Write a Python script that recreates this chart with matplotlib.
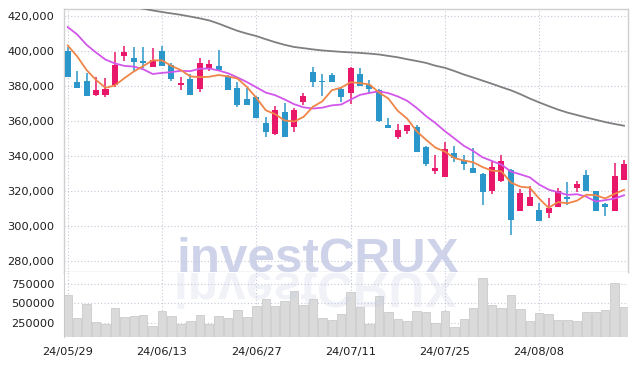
import numpy as np
import matplotlib
matplotlib.use("Agg")
import matplotlib.pyplot as plt
from matplotlib.ticker import FuncFormatter, FixedLocator
from matplotlib.textpath import TextPath
from matplotlib.patches import PathPatch
from matplotlib.font_manager import FontProperties
from matplotlib.transforms import Affine2D

dates = ['24/05/29', '24/05/30', '24/05/31', '24/06/03', '24/06/04', '24/06/05', '24/06/07',
         '24/06/10', '24/06/11', '24/06/12', '24/06/13', '24/06/14', '24/06/17', '24/06/18',
         '24/06/19', '24/06/20', '24/06/21', '24/06/24', '24/06/25', '24/06/26', '24/06/27',
         '24/06/28', '24/07/01', '24/07/02', '24/07/03', '24/07/04', '24/07/05', '24/07/08',
         '24/07/09', '24/07/10', '24/07/11', '24/07/12', '24/07/15', '24/07/16', '24/07/17',
         '24/07/18', '24/07/19', '24/07/22', '24/07/23', '24/07/24', '24/07/25', '24/07/26',
         '24/07/29', '24/07/30', '24/07/31', '24/08/01', '24/08/02', '24/08/05', '24/08/06',
         '24/08/07', '24/08/08', '24/08/09', '24/08/12', '24/08/13', '24/08/14', '24/08/16',
         '24/08/19', '24/08/20', '24/08/21', '24/08/22']

opens = [400000, 382000, 383000, 375000, 375000, 380500, 397000, 396000, 394000, 391000,
         400000, 392000, 380500, 384000, 378500, 390000, 391500, 385500, 379000, 372500,
         373500, 359000, 352500, 365000, 356500, 371000, 388000, 383000, 386000, 378000,
         376000, 386500, 380500, 377500, 357500, 351000, 354500, 356500, 345000, 331500,
         328000, 341500, 338000, 333000, 330000, 320000, 326000, 332000, 308500, 311500,
         309500, 307500, 311000, 316500, 322000, 329500, 320000, 312500, 309000, 326500]
highs = [402000, 388500, 387500, 385000, 384500, 399500, 403000, 402000, 402000, 401500,
         402500, 393000, 385000, 386500, 396000, 395000, 400500, 386000, 382500, 379000,
         374000, 362000, 368500, 370000, 367500, 376000, 391000, 387000, 387500, 379500,
         390500, 390000, 383500, 378000, 361500, 358500, 358000, 357500, 346000, 340500,
         348000, 346000, 340500, 344500, 330500, 337000, 340500, 332500, 321000, 323000,
         313500, 316000, 322000, 325000, 326000, 332000, 320000, 313000, 336000, 338000]
lows = [385000, 379000, 374500, 374500, 373500, 379500, 394000, 388000, 390000, 391000,
        391500, 383000, 377500, 375000, 376500, 388500, 389000, 377500, 368000, 369000,
        361500, 351000, 352000, 351000, 353500, 369000, 379500, 374000, 382500, 371000,
        369500, 380000, 375500, 359500, 356000, 350000, 352500, 342500, 334500, 330000,
        328000, 336500, 332000, 330500, 312000, 318500, 325500, 295000, 308500, 311500,
        303000, 304500, 311000, 312000, 319500, 320000, 309000, 306000, 309000, 326500]
closes = [385000, 379000, 374500, 377500, 378500, 392000, 399500, 393500, 393000, 395000,
          391500, 384000, 381500, 375000, 393000, 392500, 389000, 377500, 369000, 369000,
          361500, 353500, 366500, 351000, 366000, 374500, 382500, 382000, 382500, 373500,
          390000, 380000, 378000, 360000, 356000, 355000, 357500, 342500, 335500, 333500,
          344000, 339000, 335500, 330500, 319500, 334000, 337000, 303500, 319000, 316500,
          303000, 310500, 320000, 315500, 324000, 320000, 309000, 311000, 328500, 335500]
volumes = [608000, 307000, 492000, 263000, 233000, 436000, 320000, 337000, 350000, 207000,
           401000, 337000, 233000, 272000, 350000, 233000, 337000, 307000, 414000, 320000,
           466000, 557000, 466000, 531000, 660000, 479000, 555000, 307000, 285000, 363000,
           644000, 449000, 229000, 596000, 384000, 294000, 276000, 405000, 392000, 242000,
           405000, 190000, 294000, 436000, 825000, 479000, 436000, 605000, 423000, 272000,
           372000, 359000, 281000, 281000, 268000, 384000, 384000, 410000, 760000, 449000]

ma5 = [403000, 396800, 389000, 383400, 378900, 380300, 384400, 388200, 391300, 394600,
       394500, 391400, 389000, 385400, 385000, 385200, 386200, 385400, 384200, 379400,
       373200, 366100, 363900, 360300, 359700, 362300, 368100, 371200, 377500, 379000,
       382100, 381600, 380800, 376300, 372800, 365800, 361300, 354200, 349300, 344800,
       342600, 338900, 337500, 336500, 333700, 331700, 331300, 324900, 322600, 322000,
       315800, 310500, 313800, 313100, 314600, 318000, 317700, 315900, 318500, 320800]
ma10 = [413500, 409300, 403400, 399000, 395000, 392800, 391400, 391000, 389500, 386800,
        387400, 387900, 388600, 388400, 389800, 389900, 388800, 387200, 384800, 382200,
        379200, 376200, 374700, 372300, 369600, 367800, 367100, 367600, 368900, 369400,
        372200, 374900, 376000, 376900, 375900, 374000, 371500, 367500, 362800, 358800,
        354200, 350100, 345900, 342900, 339300, 337200, 335100, 331200, 329600, 327900,
        323800, 320900, 319400, 317900, 318300, 316900, 314100, 314900, 315800, 317700]
ma60 = [431200, 430300, 429400, 428500, 427600, 426700, 425800, 424900, 424000, 423000,
        422100, 421300, 420500, 419500, 418500, 417300, 415500, 413400, 411400, 409800,
        408400, 406600, 404900, 403400, 402200, 401500, 400800, 400200, 399800, 399400,
        399100, 398800, 398400, 397900, 397100, 396300, 395200, 394200, 393100, 391500,
        390300, 388500, 386500, 384800, 383000, 381200, 379300, 377500, 375300, 372800,
        370600, 368500, 366500, 364800, 363400, 362000, 360700, 359400, 358300, 357300]

tick_labels = ['24/05/29', '24/06/13', '24/06/27', '24/07/11', '24/07/25', '24/08/08']
price_ticks = [280000, 300000, 320000, 340000, 360000, 380000, 400000, 420000]
volume_ticks = [250000, 500000, 750000]

up_color = '#e8176a'
down_color = '#2b96c9'
grid_color = '#c5c8da'
spine_color = '#cfcfcf'
label_color = '#1e1e1e'

x = np.arange(len(dates))
o = np.array(opens)
c = np.array(closes)
up = c >= o
colors = np.where(up, up_color, down_color)

fig = plt.figure(figsize=(6.37, 3.66), dpi=100)
ax = fig.add_axes([64 / 637, 1 - 272 / 366, 564 / 637, 262.7 / 366])
axv = fig.add_axes([64 / 637, 1 - 337 / 366, 564 / 637, 65 / 366], sharex=ax)

# candles
ax.vlines(x, lows, highs, colors=colors, linewidth=1.1, zorder=3)
body_bottom = np.minimum(o, c)
body_height = np.maximum(np.abs(c - o), 700)
ax.bar(x, body_height, bottom=body_bottom, width=0.64, color=colors, linewidth=0, zorder=4)

# moving averages
ax.plot(x, ma60, color='#7f7f7f', linewidth=1.3, zorder=5)
ax.plot(x, ma10, color='#d256ea', linewidth=1.3, zorder=5)
ax.plot(x, ma5, color='#ef8548', linewidth=1.3, zorder=5)

ax.set_xlim(-0.4, 59.42)
ax.set_ylim(273960, 423650)
ax.yaxis.set_major_locator(FixedLocator(price_ticks))
ax.yaxis.set_major_formatter(FuncFormatter(lambda v, p: f'{int(v):,}'))

tick_pos = [dates.index(t) for t in tick_labels]
ax.set_xticks(tick_pos)
ax.tick_params(axis='x', labelbottom=False, length=0)
ax.tick_params(axis='y', length=0, pad=7, labelsize=8.2, labelcolor=label_color)
ax.grid(True, color=grid_color, linestyle=(0, (1, 2)), linewidth=0.8)
ax.set_axisbelow(True)
for s in ax.spines.values():
    s.set_color(spine_color)
    s.set_linewidth(1.0)

# volume
axv.bar(x, volumes, width=0.9, color='#dadada', edgecolor='#c4c4c4', linewidth=0.5, zorder=3)
axv.set_ylim(64800, 906700)
axv.yaxis.set_major_locator(FixedLocator(volume_ticks))
axv.set_xticks(tick_pos)
axv.set_xticklabels(tick_labels)
axv.tick_params(axis='x', length=0, pad=7, labelsize=8.2, labelcolor=label_color)
axv.tick_params(axis='y', length=0, pad=7, labelsize=8.2, labelcolor=label_color)
axv.grid(True, color=grid_color, linestyle=(0, (1, 2)), linewidth=0.8)
axv.set_axisbelow(True)
for name, s in axv.spines.items():
    s.set_color(spine_color)
    s.set_visible(name == 'left')

# watermark
wm_font = FontProperties(family='Liberation Sans', weight='bold', size=35.6)
fig.text(176 / 637, 1 - 272 / 366, 'investCRUX', fontproperties=wm_font,
         color='#c6cce6', alpha=0.85, ha='left', va='baseline', zorder=10)
path = TextPath((0, 0), 'investCRUX', size=49.5, prop=wm_font)
refl = PathPatch(path, facecolor='#c6cce6', edgecolor='none', alpha=0.25,
                 transform=Affine2D().scale(1, -1).translate(174, 366 - 273) + fig.dpi_scale_trans.inverted() + fig.dpi_scale_trans,
                 zorder=10)
refl.set_clip_box(axv.bbox)
fig.add_artist(refl)

fig.savefig('out.png', dpi=100)
